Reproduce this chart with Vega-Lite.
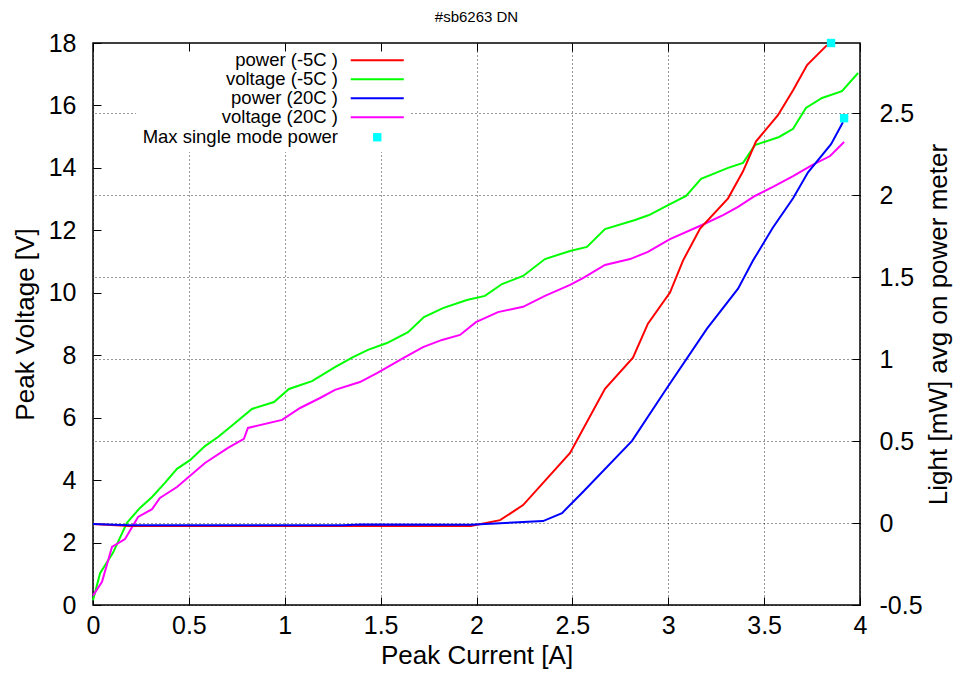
{
  "$schema": "https://vega.github.io/schema/vega-lite/v6.json",
  "width": 767,
  "height": 562,
  "autosize": {"type": "none"},
  "padding": {"left": 93, "top": 43, "right": 95, "bottom": 68},
  "background": "white",
  "title": {"text": "#sb6263 DN", "fontSize": 15, "font": "Liberation Sans", "fontWeight": "normal", "anchor": "middle", "offset": 6, "color": "black"},
  "datasets": {
    "volt": [
      {"I": 0, "V": 0.15, "series": "voltage (-5C )"},
      {"I": 0.037, "V": 1.02, "series": "voltage (-5C )"},
      {"I": 0.104, "V": 1.67, "series": "voltage (-5C )"},
      {"I": 0.177, "V": 2.63, "series": "voltage (-5C )"},
      {"I": 0.245, "V": 3.11, "series": "voltage (-5C )"},
      {"I": 0.308, "V": 3.46, "series": "voltage (-5C )"},
      {"I": 0.375, "V": 3.91, "series": "voltage (-5C )"},
      {"I": 0.438, "V": 4.36, "series": "voltage (-5C )"},
      {"I": 0.506, "V": 4.64, "series": "voltage (-5C )"},
      {"I": 0.584, "V": 5.09, "series": "voltage (-5C )"},
      {"I": 0.652, "V": 5.38, "series": "voltage (-5C )"},
      {"I": 0.73, "V": 5.77, "series": "voltage (-5C )"},
      {"I": 0.829, "V": 6.28, "series": "voltage (-5C )"},
      {"I": 0.944, "V": 6.5, "series": "voltage (-5C )"},
      {"I": 1.022, "V": 6.92, "series": "voltage (-5C )"},
      {"I": 1.142, "V": 7.17, "series": "voltage (-5C )"},
      {"I": 1.262, "V": 7.62, "series": "voltage (-5C )"},
      {"I": 1.356, "V": 7.94, "series": "voltage (-5C )"},
      {"I": 1.434, "V": 8.17, "series": "voltage (-5C )"},
      {"I": 1.533, "V": 8.39, "series": "voltage (-5C )"},
      {"I": 1.643, "V": 8.74, "series": "voltage (-5C )"},
      {"I": 1.726, "V": 9.22, "series": "voltage (-5C )"},
      {"I": 1.825, "V": 9.51, "series": "voltage (-5C )"},
      {"I": 1.95, "V": 9.77, "series": "voltage (-5C )"},
      {"I": 2.044, "V": 9.9, "series": "voltage (-5C )"},
      {"I": 2.133, "V": 10.28, "series": "voltage (-5C )"},
      {"I": 2.243, "V": 10.54, "series": "voltage (-5C )"},
      {"I": 2.357, "V": 11.08, "series": "voltage (-5C )"},
      {"I": 2.488, "V": 11.34, "series": "voltage (-5C )"},
      {"I": 2.576, "V": 11.47, "series": "voltage (-5C )"},
      {"I": 2.67, "V": 12.04, "series": "voltage (-5C )"},
      {"I": 2.827, "V": 12.33, "series": "voltage (-5C )"},
      {"I": 2.9, "V": 12.49, "series": "voltage (-5C )"},
      {"I": 2.999, "V": 12.81, "series": "voltage (-5C )"},
      {"I": 3.093, "V": 13.1, "series": "voltage (-5C )"},
      {"I": 3.171, "V": 13.65, "series": "voltage (-5C )"},
      {"I": 3.312, "V": 14.0, "series": "voltage (-5C )"},
      {"I": 3.39, "V": 14.16, "series": "voltage (-5C )"},
      {"I": 3.452, "V": 14.73, "series": "voltage (-5C )"},
      {"I": 3.578, "V": 14.99, "series": "voltage (-5C )"},
      {"I": 3.651, "V": 15.25, "series": "voltage (-5C )"},
      {"I": 3.718, "V": 15.92, "series": "voltage (-5C )"},
      {"I": 3.802, "V": 16.24, "series": "voltage (-5C )"},
      {"I": 3.906, "V": 16.46, "series": "voltage (-5C )"},
      {"I": 3.99, "V": 17.04, "series": "voltage (-5C )"},
      {"I": 0, "V": 0.3, "series": "voltage (20C )"},
      {"I": 0.047, "V": 0.74, "series": "voltage (20C )"},
      {"I": 0.099, "V": 1.86, "series": "voltage (20C )"},
      {"I": 0.167, "V": 2.11, "series": "voltage (20C )"},
      {"I": 0.235, "V": 2.82, "series": "voltage (20C )"},
      {"I": 0.308, "V": 3.07, "series": "voltage (20C )"},
      {"I": 0.349, "V": 3.43, "series": "voltage (20C )"},
      {"I": 0.438, "V": 3.78, "series": "voltage (20C )"},
      {"I": 0.584, "V": 4.55, "series": "voltage (20C )"},
      {"I": 0.704, "V": 5.03, "series": "voltage (20C )"},
      {"I": 0.787, "V": 5.32, "series": "voltage (20C )"},
      {"I": 0.808, "V": 5.67, "series": "voltage (20C )"},
      {"I": 0.986, "V": 5.93, "series": "voltage (20C )"},
      {"I": 1.08, "V": 6.31, "series": "voltage (20C )"},
      {"I": 1.184, "V": 6.63, "series": "voltage (20C )"},
      {"I": 1.262, "V": 6.89, "series": "voltage (20C )"},
      {"I": 1.392, "V": 7.14, "series": "voltage (20C )"},
      {"I": 1.481, "V": 7.43, "series": "voltage (20C )"},
      {"I": 1.627, "V": 7.94, "series": "voltage (20C )"},
      {"I": 1.721, "V": 8.26, "series": "voltage (20C )"},
      {"I": 1.82, "V": 8.49, "series": "voltage (20C )"},
      {"I": 1.914, "V": 8.65, "series": "voltage (20C )"},
      {"I": 1.997, "V": 9.06, "series": "voltage (20C )"},
      {"I": 2.112, "V": 9.38, "series": "voltage (20C )"},
      {"I": 2.243, "V": 9.55, "series": "voltage (20C )"},
      {"I": 2.357, "V": 9.9, "series": "voltage (20C )"},
      {"I": 2.488, "V": 10.25, "series": "voltage (20C )"},
      {"I": 2.555, "V": 10.47, "series": "voltage (20C )"},
      {"I": 2.67, "V": 10.89, "series": "voltage (20C )"},
      {"I": 2.801, "V": 11.08, "series": "voltage (20C )"},
      {"I": 2.894, "V": 11.31, "series": "voltage (20C )"},
      {"I": 3.009, "V": 11.72, "series": "voltage (20C )"},
      {"I": 3.176, "V": 12.17, "series": "voltage (20C )"},
      {"I": 3.286, "V": 12.49, "series": "voltage (20C )"},
      {"I": 3.364, "V": 12.75, "series": "voltage (20C )"},
      {"I": 3.452, "V": 13.1, "series": "voltage (20C )"},
      {"I": 3.546, "V": 13.39, "series": "voltage (20C )"},
      {"I": 3.651, "V": 13.74, "series": "voltage (20C )"},
      {"I": 3.75, "V": 14.09, "series": "voltage (20C )"},
      {"I": 3.844, "V": 14.38, "series": "voltage (20C )"},
      {"I": 3.917, "V": 14.83, "series": "voltage (20C )"}
    ],
    "pow": [
      {"I": 0, "P": -0.006, "series": "power (-5C )"},
      {"I": 0.19, "P": -0.018, "series": "power (-5C )"},
      {"I": 1.0, "P": -0.018, "series": "power (-5C )"},
      {"I": 1.97, "P": -0.018, "series": "power (-5C )"},
      {"I": 2.123, "P": 0.018, "series": "power (-5C )"},
      {"I": 2.243, "P": 0.11, "series": "power (-5C )"},
      {"I": 2.488, "P": 0.428, "series": "power (-5C )"},
      {"I": 2.67, "P": 0.82, "series": "power (-5C )"},
      {"I": 2.816, "P": 1.009, "series": "power (-5C )"},
      {"I": 2.894, "P": 1.217, "series": "power (-5C )"},
      {"I": 3.009, "P": 1.407, "series": "power (-5C )"},
      {"I": 3.077, "P": 1.602, "series": "power (-5C )"},
      {"I": 3.166, "P": 1.798, "series": "power (-5C )"},
      {"I": 3.312, "P": 1.982, "series": "power (-5C )"},
      {"I": 3.39, "P": 2.147, "series": "power (-5C )"},
      {"I": 3.458, "P": 2.33, "series": "power (-5C )"},
      {"I": 3.572, "P": 2.489, "series": "power (-5C )"},
      {"I": 3.651, "P": 2.642, "series": "power (-5C )"},
      {"I": 3.724, "P": 2.795, "series": "power (-5C )"},
      {"I": 3.828, "P": 2.917, "series": "power (-5C )"},
      {"I": 0, "P": -0.006, "series": "power (20C )"},
      {"I": 0.19, "P": -0.014, "series": "power (20C )"},
      {"I": 1.3, "P": -0.014, "series": "power (20C )"},
      {"I": 1.4, "P": -0.009, "series": "power (20C )"},
      {"I": 1.966, "P": -0.01, "series": "power (20C )"},
      {"I": 2.347, "P": 0.012, "series": "power (20C )"},
      {"I": 2.446, "P": 0.061, "series": "power (20C )"},
      {"I": 2.555, "P": 0.19, "series": "power (20C )"},
      {"I": 2.811, "P": 0.502, "series": "power (20C )"},
      {"I": 2.994, "P": 0.826, "series": "power (20C )"},
      {"I": 3.202, "P": 1.187, "series": "power (20C )"},
      {"I": 3.364, "P": 1.431, "series": "power (20C )"},
      {"I": 3.442, "P": 1.602, "series": "power (20C )"},
      {"I": 3.546, "P": 1.804, "series": "power (20C )"},
      {"I": 3.651, "P": 1.982, "series": "power (20C )"},
      {"I": 3.729, "P": 2.141, "series": "power (20C )"},
      {"I": 3.849, "P": 2.312, "series": "power (20C )"},
      {"I": 3.911, "P": 2.446, "series": "power (20C )"}
    ],
    "maxp": [
      {"I": 3.849, "P": 2.93, "marker": "Max single mode power"},
      {"I": 3.917, "P": 2.471, "marker": "Max single mode power"}
    ]
  },
  "layer": [
    {
      "data": {"name": "volt"},
      "mark": {"type": "line", "strokeWidth": 2},
      "encoding": {
        "x": {
          "field": "I", "type": "quantitative",
          "scale": {"domain": [0, 4], "nice": false, "zero": false},
          "axis": {"orient": "bottom", "title": "Peak Current [A]", "values": [0, 0.5, 1, 1.5, 2, 2.5, 3, 3.5, 4], "format": "~g", "grid": true, "labelPadding": 16, "titlePadding": 4}
        },
        "y": {
          "field": "V", "type": "quantitative",
          "scale": {"domain": [0, 18], "nice": false, "zero": false},
          "axis": {"title": "Peak Voltage [V]", "values": [0, 2, 4, 6, 8, 10, 12, 14, 16, 18], "grid": false, "labelPadding": 25, "titlePadding": 10}
        },
        "color": {
          "field": "series", "type": "nominal",
          "scale": {
            "domain": ["power (-5C )", "voltage (-5C )", "power (20C )", "voltage (20C )"],
            "range": ["#ff0000", "#00ff00", "#0000ff", "#ff00ff"]
          },
          "legend": {"orient": "none", "legendX": 43, "legendY": 6, "padding": 2, "symbolType": "M-6.34,0H6.34", "symbolStrokeWidth": 2, "zindex": 2}
        }
      }
    },
    {
      "encoding": {
        "x": {
          "field": "I", "type": "quantitative",
          "scale": {"domain": [0, 4], "nice": false, "zero": false},
          "axis": {"orient": "top", "title": null, "labels": false, "values": [0, 0.5, 1, 1.5, 2, 2.5, 3, 3.5, 4], "grid": false, "zindex": 3}
        },
        "y": {
          "field": "P", "type": "quantitative",
          "scale": {"domain": [-0.5, 2.93], "nice": false, "zero": false},
          "axis": {"orient": "right", "title": "Light [mW] avg on power meter", "values": [-0.5, 0, 0.5, 1, 1.5, 2, 2.5], "format": "~g", "labelExpr": "replace(datum.label, '−', '-')", "grid": true, "labelPadding": 27, "titlePadding": 3, "titleAngle": -90, "titleBaseline": "top"}
        }
      },
      "layer": [
        {
          "data": {"name": "pow"},
          "mark": {"type": "line", "strokeWidth": 2},
          "encoding": {
            "color": {
              "field": "series", "type": "nominal",
              "scale": {
                "domain": ["power (-5C )", "voltage (-5C )", "power (20C )", "voltage (20C )"],
                "range": ["#ff0000", "#00ff00", "#0000ff", "#ff00ff"]
              },
              "legend": {"orient": "none", "legendX": 43, "legendY": 6, "padding": 2, "symbolType": "M-6.34,0H6.34", "symbolStrokeWidth": 2, "zindex": 2}
            }
          }
        },
        {
          "data": {"name": "maxp"},
          "mark": {"type": "square", "size": 70, "filled": true, "opacity": 1},
          "encoding": {
            "fill": {
              "field": "marker", "type": "nominal",
              "scale": {"domain": ["Max single mode power"], "range": ["#00ffff"]},
              "legend": {"orient": "none", "legendX": 40, "legendY": 80, "symbolType": "square", "symbolStrokeWidth": 0, "zindex": 1}
            }
          }
        }
      ]
    }
  ],
  "resolve": {"scale": {"y": "independent"}, "axis": {"x": "independent"}},
  "config": {
    "view": {"stroke": "black", "strokeWidth": 1.5},
    "axis": {
      "labelFont": "Liberation Sans", "labelFontSize": 25, "labelColor": "black",
      "titleFont": "Liberation Sans", "titleFontSize": 26, "titleFontWeight": "normal", "titleColor": "black",
      "tickSize": -8, "tickColor": "black", "tickWidth": 1,
      "domain": false,
      "gridColor": "black", "gridDash": [1, 3], "gridWidth": 1, "gridOpacity": 0.8,
      "labelFlush": false, "labelOverlap": false
    },
    "legend": {
      "title": null,
      "padding": 5,
      "fillColor": "white",
      "symbolSize": 70,
      "symbolOffset": 230,
      "labelAlign": "right",
      "labelOffset": -48.5,
      "labelBaseline": "middle",
      "labelFont": "Liberation Sans",
      "labelFontSize": 18.5,
      "labelColor": "black",
      "labelLimit": 300,
      "rowPadding": 0,
      "symbolOpacity": 1
    }
  }
}
